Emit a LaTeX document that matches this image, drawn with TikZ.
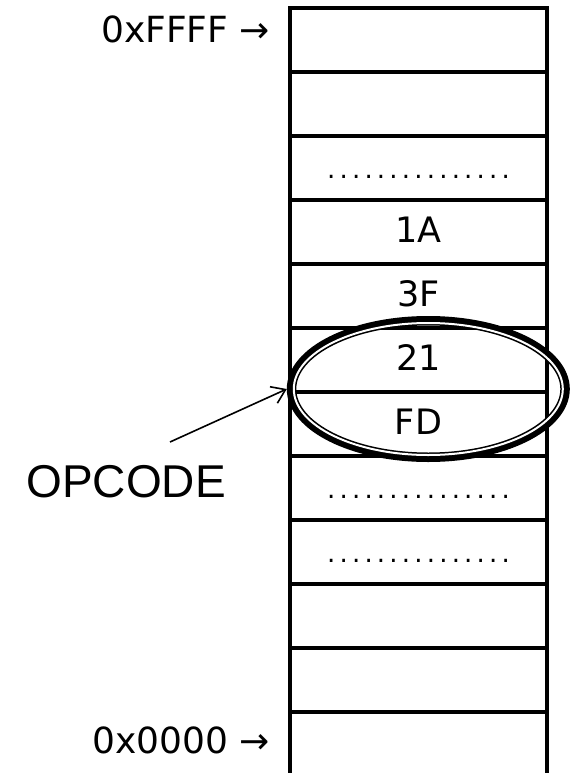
\documentclass[tikz,border=0pt]{standalone}
\usepackage{fontspec}
\setmainfont{DejaVu Sans}
\newfontfamily\opfont{Liberation Sans}
\usetikzlibrary{shapes.geometric,arrows.meta}

% a row of fifteen evenly spaced dots for the elided memory cells
\newcommand\dg{\kern4.2pt}
\newcommand\celldots{{\fontsize{26}{30}\selectfont .\dg.\dg.\dg.\dg.\dg.\dg.\dg.\dg.\dg.\dg.\dg.\dg.\dg.\dg.}}

\tikzset{
  cell/.style={draw, line width=3.5pt, minimum width=257pt, minimum height=64pt,
    inner sep=0pt, outer sep=0pt, text height=25pt, text depth=5pt,
    font=\fontsize{35}{40}\selectfont},
  addr/.style={inner sep=0pt, anchor=base east, font=\fontsize{36}{40}\selectfont},
  pointer/.style={line width=1.6pt, -{Straight Barb[length=13pt,width=18pt,line width=1.6pt]}},
}

\begin{document}
\begin{tikzpicture}[x=1pt,y=-1pt]
\useasboundingbox (0,0) rectangle (573,773);

% memory column, highest address at the top
\foreach \t [count=\i from 0] in {{},{},\celldots,1A,3F,21,FD,\celldots,\celldots,{},{},{}}
  \node[cell] (m\i) at (418.5,{40+64*\i}) {\t};

% address markers
\node[addr] (hi) at (270,43) {0xFFFF →};
\node[addr] (lo) at (270,753) {0x0000 →};

% ring around the two-byte instruction
\node[ellipse, minimum width=283pt, minimum height=146pt, inner sep=0pt, outer sep=0pt] (ring) at (428.3,389) {};
\draw[line width=9.5pt] (ring.center) ellipse [x radius=136.75pt, y radius=68.25pt];
\draw[white, line width=2pt] (ring.center) ellipse [x radius=134.5pt, y radius=66pt];

% label and pointer
\node[anchor=base, inner sep=0pt, font=\opfont\fontsize{46}{50}\selectfont] (op) at (126,497) {OPCODE};
\coordinate (tail) at (170,442);
\draw[pointer] (tail) -- (ring.west);
\end{tikzpicture}
\end{document}
